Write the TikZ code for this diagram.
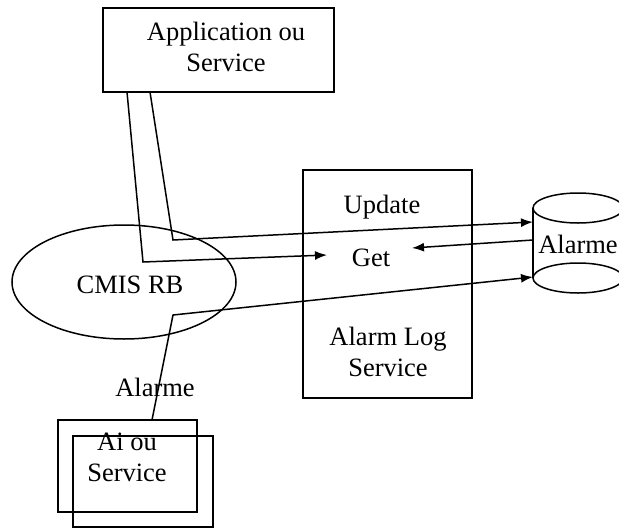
\documentclass[tikz,border=0pt]{standalone}
\usepackage{fontspec}
\setmainfont{Liberation Serif}
\usetikzlibrary{arrows.meta}
\begin{document}
\begin{tikzpicture}[x=1pt,y=-1pt,
  line width=1.5pt,
  txt/.style={font=\fontsize{26.5}{31}\selectfont, align=center, inner sep=0pt},
  boxx/.style={draw, inner sep=0pt},
  conn/.style={draw, line width=1.5pt},
  arr/.style={conn, -{Latex[length=12pt,width=9pt]}}]
\useasboundingbox (0,0) rectangle (619,528);
\begin{scope}
\clip (0,0) rectangle (619,528);
% top box
\node[boxx, minimum width=231pt, minimum height=84pt] (app) at (218.5,50) {};
\node[txt] (apptxt) at (226,47) {Application ou\\Service};
% ellipse
\draw (124,282) ellipse [x radius=112, y radius=57];
\node[txt] (cmis) at (130,285) {CMIS RB};
% alarm log service box
\node[boxx, minimum width=169pt, minimum height=228pt] (als) at (387.5,284) {};
\node[txt] (upd) at (382,207) {Update};
\node[txt] (get) at (371,258) {Get};
\node[txt] (alstxt) at (388,352) {Alarm Log\\Service};
% cylinder
\draw (578,208) ellipse [x radius=45, y radius=15];
\draw (578,278) ellipse [x radius=45, y radius=15];
\draw (533,208) -- (533,278);
\draw (623,208) -- (623,278);
\node[txt] (alarme) at (578,244) {Alarme};
% Ai boxes
\node[boxx, minimum width=139pt, minimum height=92pt] (ai1) at (127.5,466) {};
\node[boxx, minimum width=140pt, minimum height=91pt] (ai2) at (143,481.5) {};
\node[txt] (aitxt) at (127,457) {Ai ou\\Service};
\node[txt] (alabel) at (155,387) {Alarme};
% coordinates
\coordinate (a1) at (127,92);
\coordinate (b1) at (143,262);
\coordinate (e1) at (327,255);
\coordinate (a2) at (150,92);
\coordinate (b2) at (173,240);
\coordinate (e2) at (533,222);
\coordinate (a3) at (152,420);
\coordinate (b3) at (173,315);
\coordinate (e3) at (533,277);
\coordinate (a4) at (533,240);
\coordinate (e4) at (412,248);
% connectors
\draw[arr] (a1) -- (b1) -- (e1);
\draw[arr] (a2) -- (b2) -- (e2);
\draw[arr] (a3) -- (b3) -- (e3);
\draw[arr] (a4) -- (e4);
\end{scope}
\end{tikzpicture}
\end{document}
